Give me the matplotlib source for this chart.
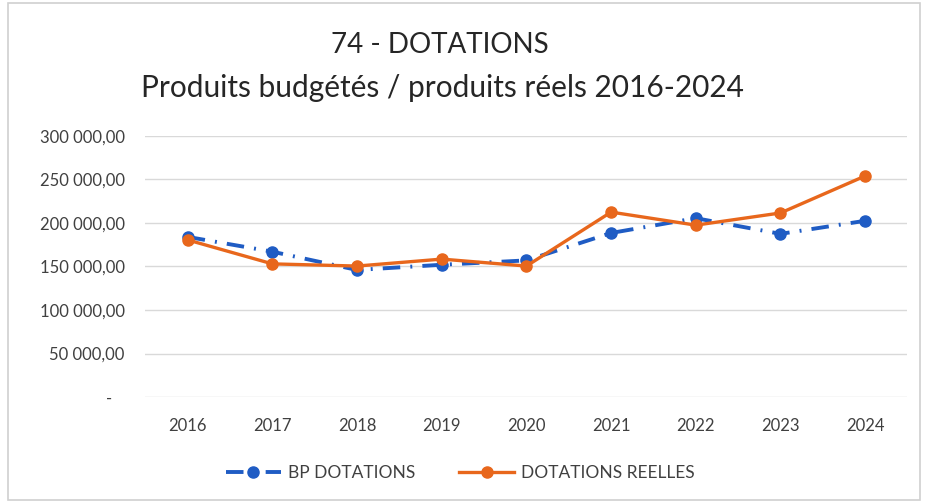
import matplotlib.pyplot as plt
from matplotlib.patches import Rectangle
from matplotlib.ticker import FuncFormatter

plt.rcParams['font.family'] = ['Lato', 'DejaVu Sans']

years = ['2016', '2017', '2018', '2019', '2020', '2021', '2022', '2023', '2024']
bp_dotations = [184000, 167000, 146000, 152000, 157000, 188500, 205500, 187500, 202500]
dotations_reelles = [180500, 153000, 150500, 158500, 150500, 212500, 197500, 211500, 254000]
y_ticks = [0, 50000, 100000, 150000, 200000, 250000, 300000]

blue = '#1f5cc4'
orange = '#e8671c'


def fr_format(v, pos):
    #excel style: "-" for zero, space thousands, comma decimals
    if v == 0:
        return '-   '
    s = '{:,.2f}'.format(v)
    return s.replace(',', ' ').replace('.', ',')


fig = plt.figure(figsize=(9.26, 5.03), dpi=100)
ax = fig.add_axes([0.157, 0.2107, 0.823, 0.519])

x = list(range(len(years)))
ax.plot(x, bp_dotations, color=blue, lw=2.8, linestyle=(0, (4.5, 2.6, 0.5, 2.6)),
        marker='o', markersize=8, label='BP DOTATIONS', zorder=3)
ax.plot(x, dotations_reelles, color=orange, lw=2.4, marker='o', markersize=8,
        label='DOTATIONS REELLES', zorder=4)

ax.set_xlim(-0.5, len(years) - 0.5)
ax.set_ylim(0, 300000)
ax.set_yticks(y_ticks)
ax.yaxis.set_major_formatter(FuncFormatter(fr_format))
ax.set_xticks(x)
ax.set_xticklabels(years)
ax.tick_params(axis='both', length=0, labelsize=12, colors='#404040')
ax.tick_params(axis='y', pad=15)
ax.tick_params(axis='x', pad=15)
ax.grid(axis='y', color='#d9d9d9', lw=1)
for s in ax.spines.values():
    s.set_visible(False)
ax.set_axisbelow(True)

fig.text(0.475, 0.91, '74 - DOTATIONS', ha='center', va='center', fontsize=20, color='#262626')
fig.text(0.478, 0.825, 'Produits budgétés / produits réels 2016-2024', ha='center', va='center',
         fontsize=21.5, color='#262626')

leg = fig.legend(loc='center', bbox_to_anchor=(0.497, 0.06), ncol=2, frameon=False,
                 fontsize=12.5, handlelength=3.2, columnspacing=2.5, handletextpad=0.4)
for t in leg.get_texts():
    t.set_color('#404040')

fig.patches.append(Rectangle((0.009, 0.006), 0.985, 0.988, transform=fig.transFigure,
                             fill=False, edgecolor='#d0d0d0', lw=1.2))

fig.savefig('out.png', dpi=100, facecolor='white')
